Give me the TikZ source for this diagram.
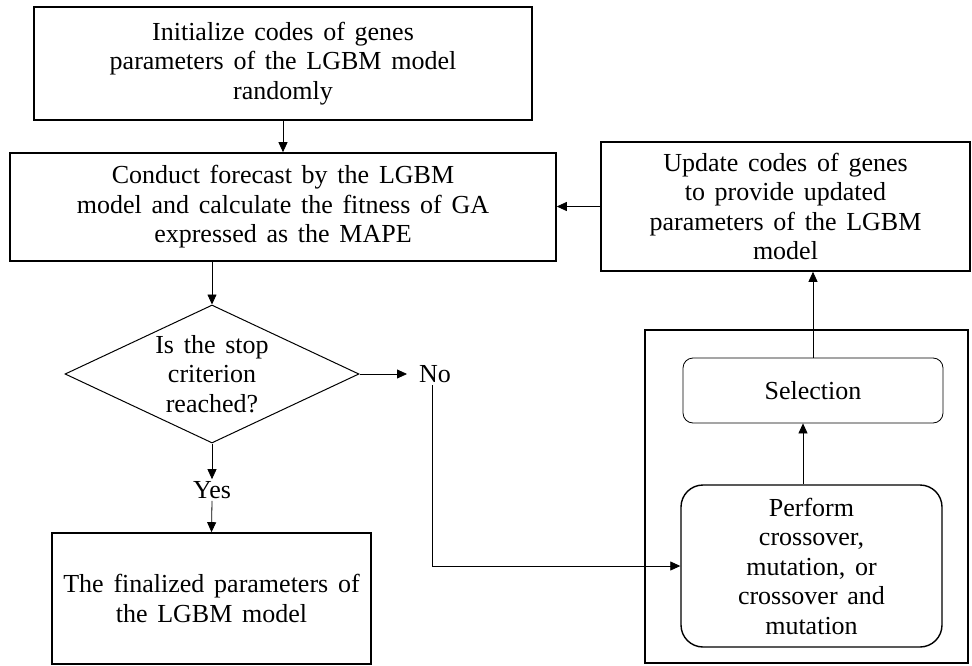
\documentclass[tikz,border=0pt]{standalone}
\usepackage{fontspec}
\setmainfont{Liberation Serif}[WordSpace=1.5]
\usetikzlibrary{shapes.geometric,arrows.meta}
\begin{document}
\begin{tikzpicture}[x=1pt,y=-1pt,
  every node/.style={font=\fontsize{26}{29.5}\selectfont, align=center},
  box/.style={draw, line width=1.6pt, inner sep=0pt},
  rbox/.style={draw, rounded corners=#1, inner sep=0pt},
  arr/.style={line width=0.8pt, -{Triangle[length=10pt,width=9pt]}},
  ln/.style={line width=0.8pt}]
\useasboundingbox (0,0) rectangle (972,666);
\node[box, minimum width=498, minimum height=113] (init) at (283,63.5)
  {Initialize codes of genes\\parameters of the LGBM model\\randomly};
\node[box, minimum width=546, minimum height=108] (fore) at (283,207)
  {Conduct forecast by the LGBM\\model and calculate the fitness of GA\\expressed as the MAPE};
\node[box, minimum width=369, minimum height=129] (upd) at (785.5,206.5)
  {Update codes of genes\\to provide updated\\parameters of the LGBM\\model};
\node[box, minimum width=323, minimum height=333] (outer) at (806.5,496.5) {};
\node[rbox=10pt, line width=0.8pt, minimum width=260, minimum height=65] (sel) at (813,390.5) {Selection};
\node[rbox=22pt, line width=1.4pt, minimum width=261, minimum height=162] (perf) at (811.5,566)
  {Perform\\crossover,\\mutation, or\\crossover and\\mutation};
\node[draw, diamond, line width=1pt, aspect=2.13, inner sep=0pt, minimum width=294, minimum height=138] (dia) at (212,374)
  {Is the stop\\criterion\\reached?};
\node[box, minimum width=319, minimum height=131] (fin) at (211.5,598.5)
  {The finalized parameters of\\the LGBM model};
\node[inner sep=2pt, anchor=west] (no) at (417,374) {No};
\node[inner sep=2pt] (yes) at (212,490) {Yes};
\draw[arr] (init.south) -- (init.south |- fore.north);
\draw[arr] (fore.south -| dia.north) -- (dia.north);
\draw[arr] (dia.east) -- (407,374) coordinate (noend);
\draw[arr] (no.south -| 432,0) |- (perf.west);
\draw[arr] (dia.south) -- (yes.north);
\draw[arr] (yes.south) -- (fin.north);
\draw[arr] (perf.north -| 803,0) -- (sel.south -| 803,0);
\draw[arr] (sel.north) -- (sel.north |- upd.south);
\draw[arr] (upd.west) -- (upd.west -| fore.east);
\end{tikzpicture}
\end{document}
